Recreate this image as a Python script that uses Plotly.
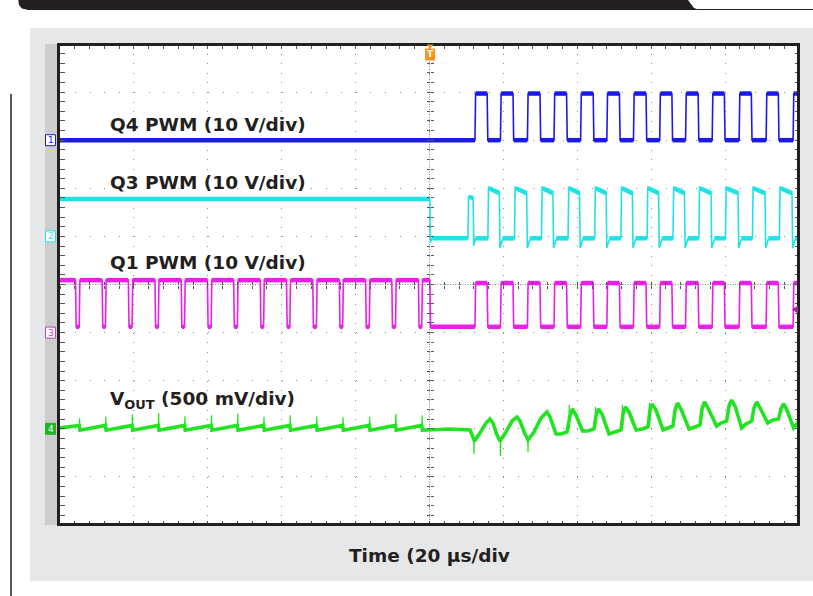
import plotly.graph_objects as go

# ---------------- values read from the scope capture ----------------
time_range_us = [-100, 100]      # 10 div x 20 us/div
div_range = [-5, 5]              # 10 vertical divisions

# channel offsets (div) and scales
q4_offset_div, q4_v_per_div = 3.0, 10.0
q3_offset_div, q3_v_per_div = 1.0, 10.0
q1_offset_div, q1_v_per_div = -1.0, 10.0
vout_offset_div, vout_mv_per_div = -3.0, 500.0

# Q4 PWM: low until the load step, then switching
q4_rise_us = [12.3, 19.2, 26.5, 33.7, 40.9, 48.0, 55.2, 62.3, 69.3, 76.5, 83.8, 91.1, 98.4]
q4_fall_us = [15.6, 22.6, 29.9, 37.1, 44.3, 51.4, 58.6, 65.6, 72.7, 79.8, 87.1, 94.4]
q4_low_v, q4_high_v = 0.0, 9.7

# Q3 PWM
q3_pre_high_v = 7.8
q3_step_us = 0.1
q3_blip_us = [10.4, 11.8]
q3_blip_v = 8.2
q3_rise_us = [15.8, 23.0, 30.3, 37.5, 44.7, 51.8, 58.9, 65.9, 72.9, 80.1, 87.4, 94.7]
q3_fall_us = [18.9, 26.3, 33.4, 40.6, 47.8, 54.9, 62.0, 69.0, 76.2, 83.5, 90.8, 98.1]
q3_low_v = -0.4
q3_overshoot_v, q3_high_start_v, q3_high_end_v = 10.4, 10.0, 9.0
q3_undershoot_v = -2.4

# Q1 PWM
q1_pre_fall_us = [-95.8, -88.6, -81.5, -74.3, -67.2, -60.1, -53.0, -45.8, -38.7, -31.6, -24.4, -17.3, -10.2, -3.0]
q1_pre_rise_us = [-94.8, -87.7, -80.5, -73.4, -66.3, -59.1, -52.0, -44.9, -37.8, -30.6, -23.5, -16.3, -9.2, -2.1]
q1_step_us = 0.1
q1_post_rise_us = [12.3, 19.2, 26.5, 33.7, 40.9, 48.0, 55.2, 62.3, 69.3, 76.5, 83.8, 91.1, 98.4]
q1_post_fall_us = [15.6, 22.6, 29.9, 37.1, 44.3, 51.4, 58.6, 65.6, 72.7, 79.8, 87.1, 94.4]
q1_pre_high_v, q1_post_high_v, q1_low_v = 10.9, 10.3, 1.2

# VOUT before the step: small sawtooth reset at each Q1 edge
vout_pre_edge_us = [-94.7, -87.6, -80.4, -73.3, -66.2, -59.0, -51.9, -44.8, -37.7, -30.5, -23.4, -16.2, -9.1, -2.0]
vout_pre_before_mv, vout_pre_after_mv, vout_pre_start_mv = 35, -15, 10
# VOUT after the step
vout_post_t_us = [0.14, 5.5, 10.96, 11.5, 12.18, 13.67, 15.29, 16.37, 17.18, 18.27, 19.08, 20.70, 22.33, 23.68,
                  24.49, 25.85, 26.66, 28.28, 30.18, 31.80, 32.61, 34.24, 35.59, 37.21, 38.02, 38.70, 39.65,
                  41.43, 42.90, 44.52, 45.06, 45.74, 46.68, 48.58, 50.20, 51.83, 52.37, 53.04, 53.99, 55.89,
                  57.51, 59.13, 59.68, 60.22, 61.30, 63.20, 64.55, 65.90, 66.44, 67.12, 68.06, 70.23, 71.85,
                  73.21, 73.75, 74.42, 75.37, 77.70, 78.89, 80.41, 81.06, 81.73, 82.68, 84.49, 85.66, 87.20,
                  87.82, 88.58, 89.45, 91.56, 92.96, 94.45, 95.13, 95.81, 96.75, 98.54, 99.46, 100.0]
vout_post_mv = [-12, -2, -12, -75, -127, -44, 60, 102, 60, -64, -127, -33, 81, 123,
                81, -54, -116, -33, 112, 175, 123, -54, -54, -33, 133, 206, 143,
                -23, -23, -2, 133, 206, 154, -54, -33, -12, 154, 227, 175, -12,
                -2, 19, 195, 258, 195, -12, 8, 29, 195, 268, 206, -2, 19,
                40, 206, 279, 216, 29, 60, 81, 237, 299, 237, 8, 50, 81,
                216, 279, 216, 60, 91, 102, 206, 262, 195, 8, 50, 91]
# narrow switching spikes on VOUT (time, base, tip)
vout_spike_us = [-94.7, -87.6, -80.4, -73.3, -66.2, -59.0, -51.9, -44.8, -37.7, -30.5, -23.4, -16.2, -9.1, -2.0,
                 12.04, 19.2, 26.66, 37.8, 44.9, 52.2, 59.5]
vout_spike_base_mv = [20, 20, 20, 20, 20, 20, 20, 20, 20, 20, 20, 20, 20, 20,
                      -127, -127, -116, 0, 20, 30, 40]
vout_spike_tip_mv = [110, 125, 150, 165, 130, 140, 160, 125, 140, 130, 120, 125, 155, 140,
                     -262, -283, -241, 250, 230, 250, 270]

# ---------------- geometry ----------------
W, H = 813, 596
ML, MR, MT, MB = 60, 14, 44, 71
PW, PH = W - ML - MR, H - MT - MB
SLEW = 0.18

def px(x):
    return (x - ML) / PW

def py(y):
    return (H - MB - y) / PH

def to_div(vals, offset, scale):
    return [None if v is None else offset + v / scale for v in vals]

def pieces_from_edges(t0, t1, v0, edges):
    pieces = []
    ct, cv = t0, v0
    for t, v in edges:
        pieces.append((ct, t, cv, cv))
        ct, cv = t + SLEW, v
    pieces.append((ct, t1, cv, cv))
    return pieces

def thin_thick(pieces):
    tx, ty, kx, ky = [], [], [], []
    for a, b, va, vb in pieces:
        tx += [a, b]; ty += [va, vb]
        kx += [a, b, None]; ky += [va, vb, None]
    return tx, ty, kx, ky

t0, t1 = time_range_us

# Q4
q4_edges = sorted([(t, q4_high_v) for t in q4_rise_us] + [(t, q4_low_v) for t in q4_fall_us])
q4 = thin_thick(pieces_from_edges(t0, t1, q4_low_v, q4_edges))

# Q1
q1_edges = sorted([(t, q1_low_v) for t in q1_pre_fall_us] + [(t, q1_pre_high_v) for t in q1_pre_rise_us]
                  + [(q1_step_us, q1_low_v)]
                  + [(t, q1_post_high_v) for t in q1_post_rise_us] + [(t, q1_low_v) for t in q1_post_fall_us])
q1 = thin_thick(pieces_from_edges(t0, t1, q1_pre_high_v, q1_edges))

# Q3
q3_pieces = [(t0, q3_step_us, q3_pre_high_v, q3_pre_high_v),
             (q3_step_us + 0.6, q3_blip_us[0], q3_low_v, q3_low_v),
             (q3_blip_us[0] + SLEW, q3_blip_us[1], q3_blip_v, q3_blip_v - 0.2)]
q3_tx = [t0, q3_step_us, q3_step_us + SLEW, q3_step_us + 0.6, q3_blip_us[0], q3_blip_us[0] + SLEW,
         q3_blip_us[1], q3_blip_us[1] + SLEW, q3_blip_us[1] + 0.7]
q3_ty = [q3_pre_high_v, q3_pre_high_v, q3_undershoot_v * 0.5, q3_low_v, q3_low_v, q3_blip_v,
         q3_blip_v - 0.2, q3_undershoot_v * 0.8, q3_low_v]
prev_low_start = q3_blip_us[1] + 0.7
for r, f in zip(q3_rise_us, q3_fall_us):
    q3_pieces.append((prev_low_start, r, q3_low_v, q3_low_v))
    q3_pieces.append((r + 0.3, f, q3_high_start_v, q3_high_end_v))
    q3_tx += [r, r + SLEW, r + 0.3, f, f + SLEW, f + 0.9]
    q3_ty += [q3_low_v, q3_overshoot_v, q3_high_start_v, q3_high_end_v, q3_undershoot_v, q3_low_v - 0.2]
    prev_low_start = f + 0.9
q3_pieces.append((prev_low_start, t1, q3_low_v, q3_low_v))
q3_tx.append(t1); q3_ty.append(q3_low_v)
q3_kx, q3_ky = [], []
for a, b, va, vb in q3_pieces:
    q3_kx += [a, b, None]; q3_ky += [va, vb, None]

# VOUT main trace
vx, vy = [t0], [vout_pre_start_mv]
for ts in vout_pre_edge_us:
    vx += [ts - 0.1, ts + 0.1]
    vy += [vout_pre_before_mv, vout_pre_after_mv]
vx += vout_post_t_us
vy += vout_post_mv
# VOUT spikes
sx, sy = [], []
for ts, b, tip in zip(vout_spike_us, vout_spike_base_mv, vout_spike_tip_mv):
    sx += [ts - 0.08, ts, ts + 0.08, None]
    sy += [b, tip, b, None]

BLUE, CYAN, MAG, GREEN = '#1a1aee', '#1ee3e6', '#ea1fea', '#22e322'
INK = '#231f20'

fig = go.Figure()

def add_pair(tx, ty, kx, ky, off, sc, color, name):
    fig.add_trace(go.Scatter(x=kx, y=to_div(ky, off, sc), mode='lines', line=dict(color=color, width=4.5),
                             hoverinfo='skip', showlegend=False, name=name, connectgaps=False))
    fig.add_trace(go.Scatter(x=tx, y=to_div(ty, off, sc), mode='lines', line=dict(color=color, width=1.6),
                             hoverinfo='skip', showlegend=False, name=name))

add_pair(q4[0], q4[1], q4[2], q4[3], q4_offset_div, q4_v_per_div, BLUE, 'Q4')
add_pair(q3_tx, q3_ty, q3_kx, q3_ky, q3_offset_div, q3_v_per_div, CYAN, 'Q3')
add_pair(q1[0], q1[1], q1[2], q1[3], q1_offset_div, q1_v_per_div, MAG, 'Q1')
fig.add_trace(go.Scatter(x=vx, y=to_div(vy, vout_offset_div, vout_mv_per_div), mode='lines',
                         line=dict(color=GREEN, width=3.6), hoverinfo='skip', showlegend=False, name='VOUT'))
fig.add_trace(go.Scatter(x=sx, y=to_div(sy, vout_offset_div, vout_mv_per_div), mode='lines',
                         line=dict(color=GREEN, width=1.2), hoverinfo='skip', showlegend=False, name='VOUT spikes'))

# empty traces to host center-line tick axes
for xa, ya in [('x2', 'y'), ('x3', 'y'), ('x', 'y2'), ('x', 'y3')]:
    fig.add_trace(go.Scatter(x=[None], y=[None], xaxis=xa, yaxis=ya, showlegend=False, hoverinfo='skip'))

TICK = '#555555'
GRID = '#8c8c8c'
common = dict(showticklabels=False, zeroline=False, showline=False, fixedrange=True, automargin=False)
fig.update_layout(
    width=W, height=H, margin=dict(l=ML, r=MR, t=MT, b=MB, pad=0),
    paper_bgcolor='white', plot_bgcolor='rgba(0,0,0,0)',
    xaxis=dict(range=time_range_us, tick0=-100, dtick=20, showgrid=True, gridcolor=GRID, gridwidth=1,
               griddash='1px,8.62px', ticks='inside', ticklen=4.5, tickcolor=TICK, mirror='ticks',
               minor=dict(tick0=-100, dtick=4, ticks='inside', ticklen=4.5, tickcolor=TICK, showgrid=False),
               **common),
    yaxis=dict(range=div_range, tick0=-5, dtick=1, showgrid=True, gridcolor=GRID, gridwidth=1,
               griddash='1px,13.78px', ticks='inside', ticklen=4.5, tickcolor=TICK, mirror='ticks',
               minor=dict(tick0=-5, dtick=0.2, ticks='inside', ticklen=4.5, tickcolor=TICK, showgrid=False),
               **common),
    xaxis2=dict(overlaying='x', matches='x', anchor='free', position=0.5, showgrid=False, tick0=-100, dtick=20,
                ticks='inside', ticklen=3, tickcolor=TICK,
                minor=dict(tick0=-100, dtick=4, ticks='inside', ticklen=3, tickcolor=TICK), **common),
    xaxis3=dict(overlaying='x', matches='x', anchor='free', position=0.5, showgrid=False, tick0=-100, dtick=20,
                ticks='outside', ticklen=3, tickcolor=TICK,
                minor=dict(tick0=-100, dtick=4, ticks='outside', ticklen=3, tickcolor=TICK), **common),
    yaxis2=dict(overlaying='y', matches='y', anchor='free', position=0.5, showgrid=False, tick0=-5, dtick=1,
                ticks='inside', ticklen=3, tickcolor=TICK,
                minor=dict(tick0=-5, dtick=0.2, ticks='inside', ticklen=3, tickcolor=TICK), **common),
    yaxis3=dict(overlaying='y', matches='y', anchor='free', position=0.5, showgrid=False, tick0=-5, dtick=1,
                ticks='outside', ticklen=3, tickcolor=TICK,
                minor=dict(tick0=-5, dtick=0.2, ticks='outside', ticklen=3, tickcolor=TICK), **common),
)

def path(points, close=True):
    s = 'M ' + ' L '.join(f'{px(x):.5f},{py(y):.5f}' for x, y in points)
    return s + (' Z' if close else '')

shapes = []
# light gray panel, darker strip, white screen
shapes.append(dict(type='rect', xref='paper', yref='paper', x0=px(30), x1=px(814), y0=py(581), y1=py(28),
                   fillcolor='#e6e7e8', line=dict(width=0), layer='below'))
shapes.append(dict(type='rect', xref='paper', yref='paper', x0=px(45), x1=px(58), y0=py(525), y1=py(44),
                   fillcolor='#cdcdcd', line=dict(width=0), layer='below'))
shapes.append(dict(type='rect', xref='paper', yref='paper', x0=0, x1=1, y0=0, y1=1,
                   fillcolor='white', line=dict(width=0), layer='below'))
# center cross (dotted)
shapes.append(dict(type='line', xref='x', yref='paper', x0=0, x1=0, y0=0, y1=1,
                   line=dict(color='#8a8a8a', width=1, dash='1px,1.5px'), layer='below'))
shapes.append(dict(type='line', xref='paper', yref='y', x0=0, x1=1, y0=0, y1=0,
                   line=dict(color='#8a8a8a', width=1, dash='1px,1.5px'), layer='below'))
# screen border
shapes.append(dict(type='rect', xref='paper', yref='paper', x0=px(58.5), x1=px(798.5), y0=py(524.5), y1=py(44.5),
                   line=dict(color=INK, width=3), fillcolor='rgba(0,0,0,0)', layer='above'))
# top black tab
top_bar = [(18, -2), (683, -2), (688, 0), (691, 4), (694, 8), (700, 10), (28, 10), (22, 8.6), (19, 5)]
shapes.append(dict(type='path', xref='paper', yref='paper', path=path(top_bar), fillcolor=INK,
                   line=dict(width=0), layer='above'))
shapes.append(dict(type='line', xref='paper', yref='paper', x0=px(698), x1=px(814), y0=py(9.5), y1=py(9.5),
                   line=dict(color=INK, width=1)))
# left rule
shapes.append(dict(type='line', xref='paper', yref='paper', x0=px(11), x1=px(11), y0=py(94), y1=py(598),
                   line=dict(color=INK, width=1.5)))
# trigger position marker
shapes.append(dict(type='path', xref='paper', yref='paper',
                   path=path([(426.5, 44.5), (433.5, 44.5), (430, 49)]), fillcolor='#f7941d', line=dict(width=0),
                   layer='above'))
shapes.append(dict(type='rect', xref='paper', yref='paper', x0=px(425), x1=px(435), y0=py(60.5), y1=py(48.5),
                   fillcolor='#f7941d', line=dict(width=0), layer='above'))
# trigger level arrow (ch3)
shapes.append(dict(type='path', xref='paper', yref='paper',
                   path=path([(792, 309.5), (798, 305.5), (798, 313.5)]), fillcolor='#a0239a', line=dict(width=0),
                   layer='above'))

annotations = []
# channel ground markers
markers = [('1', q4_offset_div, BLUE, 'white', BLUE), ('2', q3_offset_div, CYAN, 'white', CYAN),
           ('3', q1_offset_div, '#c040c0', 'white', '#c040c0'), ('4', vout_offset_div, '#22b422', '#22b422', 'white')]
for label, off, edge, fill, txt in markers:
    ycen = H - MB - (off - div_range[0]) / (div_range[1] - div_range[0]) * PH
    shapes.append(dict(type='rect', xref='paper', yref='paper', x0=px(45.5), x1=px(55.5),
                       y0=py(ycen + 5.5), y1=py(ycen - 5.5), fillcolor=fill, line=dict(color=edge, width=1),
                       layer='above'))
    annotations.append(dict(xref='paper', yref='paper', x=px(50.5), y=py(ycen), text=label, showarrow=False,
                            font=dict(family='DejaVu Sans', size=9, color=txt), xanchor='center', yanchor='middle'))

annotations.append(dict(xref='paper', yref='paper', x=px(430), y=py(54.5), text='<b>T</b>', showarrow=False,
                        font=dict(family='DejaVu Sans', size=9, color='white'), xanchor='center', yanchor='middle'))

LABEL_FONT = dict(family='DejaVu Sans', size=18.5, color=INK)
labels = [('<b>Q4 PWM (10 V/div)</b>', 124), ('<b>Q3 PWM (10 V/div)</b>', 183),
          ('<b>Q1 PWM (10 V/div)</b>', 262.5), ('<b>V<sub>OUT</sub> (500 mV/div)</b>', 400)]
for text, yc in labels:
    annotations.append(dict(xref='paper', yref='paper', x=px(108), y=py(yc), text=text, showarrow=False,
                            font=LABEL_FONT, xanchor='left', yanchor='middle'))
annotations.append(dict(xref='paper', yref='paper', x=px(429), y=py(555), text='<b>Time (20 µs/div</b>',
                        showarrow=False, font=LABEL_FONT, xanchor='center', yanchor='middle'))

fig.update_layout(shapes=shapes, annotations=annotations)
fig.write_html('out.html', config={'displayModeBar': False},
               post_script="document.body.style.margin='0';document.body.style.overflow='hidden';")
